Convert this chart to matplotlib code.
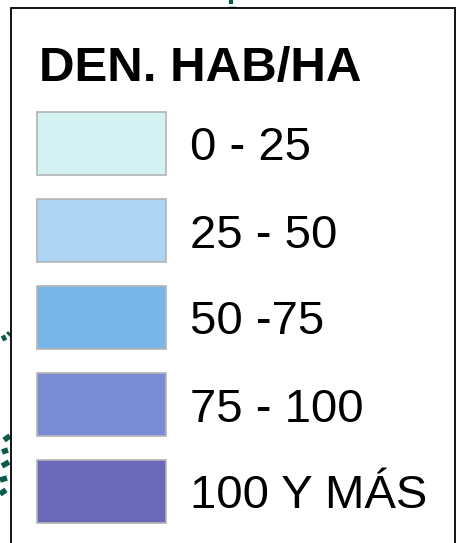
import matplotlib
matplotlib.use("Agg")
import matplotlib.pyplot as plt
from matplotlib.patches import Rectangle

title = "DEN. HAB/HA"
categories = ["0 - 25", "25 - 50", "50 -75", "75 - 100", "100 Y MÁS"]
colors = ["#d4f2f2", "#add4f2", "#78b6ea", "#7a8dd4", "#6a69b9"]

W, H = 458, 543
fig = plt.figure(figsize=(W / 100, H / 100), dpi=100)
ax = fig.add_axes([0, 0, 1, 1])
ax.set_xlim(0, W)
ax.set_ylim(H, 0)
ax.axis("off")

# map remnants (dark green dashed outlines) peeking outside the legend box
green = "#0b5a4c"
ax.plot([231, 231], [0, 4], color=green, lw=3, solid_capstyle="butt")
ax.plot([228, 236], [8, 8], color=green, lw=2.5, solid_capstyle="butt")
for seg in [([2, 6], [339, 337]), ([8, 10], [335, 333]),
            ([4, 10], [440, 436]), ([2, 8], [452, 450]),
            ([2, 9], [466, 462]), ([0, 7], [480, 478]), ([0, 6], [494, 490])]:
    ax.plot(seg[0], seg[1], color=green, lw=4, solid_capstyle="butt")

# legend box
ax.add_patch(Rectangle((11, 8), 444, 560, facecolor="white", edgecolor="black", lw=1.3, zorder=2))

ax.text(39, 80.5, title, fontsize=35.5, fontweight="bold", family="Liberation Sans",
        va="baseline", ha="left", zorder=3)

y0, step, hgt = 143.5, 87, 63
ys = [y0 + i * step for i in range(len(categories))]
ax.barh(ys, [129] * len(categories), height=hgt, left=37, color=colors,
        edgecolor="#b4b4b4", linewidth=1.2, zorder=3)
for y, lab in zip(ys, categories):
    ax.text(190, y + 17, lab, fontsize=34, family="Liberation Sans",
            va="baseline", ha="left", zorder=3)

fig.savefig("out.png", dpi=100)
